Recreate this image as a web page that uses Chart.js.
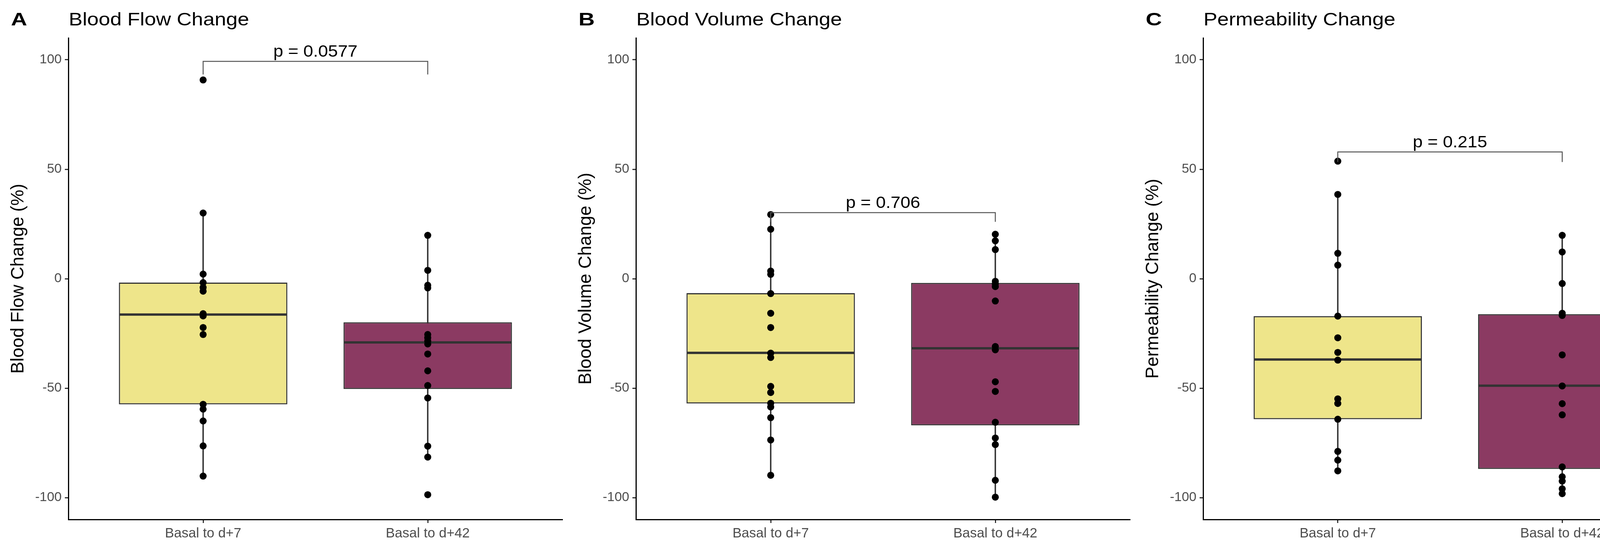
<!DOCTYPE html>
<html><head><meta charset="utf-8">
<script src="https://cdn.jsdelivr.net/npm/chart.js@4"></script>
<style>
html,body{margin:0;padding:0;background:#fff;overflow:hidden;}
#wrap{position:relative;width:4366px;height:1402px;background:#fff;}
.panel{position:absolute;top:0;height:1402px;}
</style></head><body>
<div id="wrap">
<div class="panel" style="left:0;width:1453px"><canvas id="cA"></canvas></div>
<div class="panel" style="left:1453px;width:1452px"><canvas id="cB"></canvas></div>
<div class="panel" style="left:2905px;width:1461px"><canvas id="cC"></canvas></div>
</div>
<script>
// ---------- data ----------
const categories = ['Basal to d+7', 'Basal to d+42'];
const categoryPositions = [1, 2];
const yTickValues = [-100, -50, 0, 50, 100];
const panelLetters = ['A', 'B', 'C'];
const panelTitles = ['Blood Flow Change', 'Blood Volume Change', 'Permeability Change'];
const yAxisTitles = ['Blood Flow Change (%)', 'Blood Volume Change (%)', 'Permeability Change (%)'];
const pValueLabels = ['p = 0.0577', 'p = 0.706', 'p = 0.215'];
const bracketLevels = [99.3, 30.2, 57.9];
const bracketTipEnds = [93.3, 26.0, 53.3];

const flowD7  = [90.8, 30.0, 2.1, -1.8, -4.0, -5.7, -16.0, -17.0, -22.3, -25.5, -57.4, -59.6, -65.0, -76.4, -90.2];
const flowD42 = [19.8, 3.8, -3.0, -4.2, -25.5, -27.0, -28.5, -29.8, -34.4, -42.1, -48.8, -54.5, -76.5, -81.5, -98.7];
const flowQ1 = [-57.4, -50.4];
const flowMedian = [-16.4, -29.1];
const flowQ3 = [-1.8, -19.9];
const flowWhiskerLow = [-90.2, -81.5];
const flowWhiskerHigh = [30.0, 19.8];

const volumeD7  = [29.3, 22.6, 3.5, 2.0, -6.8, -15.8, -22.3, -34.0, -36.0, -49.2, -52.0, -56.9, -58.6, -63.5, -73.7, -89.8];
const volumeD42 = [20.3, 17.3, 13.3, -1.2, -2.4, -3.6, -10.2, -31.0, -32.5, -47.1, -51.5, -65.6, -72.8, -75.8, -92.1, -99.8];
const volumeQ1 = [-57.0, -67.0];
const volumeMedian = [-33.9, -31.8];
const volumeQ3 = [-6.6, -1.9];
const volumeWhiskerLow = [-89.8, -99.8];
const volumeWhiskerHigh = [29.3, 20.3];

const permD7  = [53.7, 38.5, 11.6, 6.2, -17.1, -27.0, -33.7, -37.2, -54.9, -57.0, -64.2, -78.9, -82.9, -87.8];
const permD42 = [19.8, 12.2, -2.2, -15.8, -16.8, -34.8, -49.0, -57.1, -62.2, -86.0, -90.5, -92.5, -96.0, -98.2];
const permQ1 = [-64.2, -86.9];
const permMedian = [-36.9, -48.9];
const permQ3 = [-17.1, -16.2];
const permWhiskerLow = [-87.8, -98.2];
const permWhiskerHigh = [38.5, 19.8];

// ---------- styling ----------
const FONT = '"Liberation Sans", Arial, Helvetica, sans-serif';
const boxColors = ['#EEE58A', '#8B3A62'];
const lineDark = '#333333';

const panels = [
  {id: 'cA', pts: [flowD7, flowD42], q1: flowQ1, med: flowMedian, q3: flowQ3, wl: flowWhiskerLow, wh: flowWhiskerHigh, padRight: 13},
  {id: 'cB', pts: [volumeD7, volumeD42], q1: volumeQ1, med: volumeMedian, q3: volumeQ3, wl: volumeWhiskerLow, wh: volumeWhiskerHigh, padRight: 12},
  {id: 'cC', pts: [permD7, permD42], q1: permQ1, med: permMedian, q3: permQ3, wl: permWhiskerLow, wh: permWhiskerHigh, padRight: 22}
];

function stretchedText(ctx, text, x, y, sx) {
  ctx.save();
  ctx.translate(x, y);
  ctx.scale(sx, 1);
  ctx.fillText(text, 0, 0);
  ctx.restore();
}

const boxPlugin = {
  id: 'boxParts',
  afterDatasetDraw(chart, args) {
    const meta = args.meta;
    if (meta.type !== 'bar' || chart.data.datasets[args.index].role !== 'box') return;
    const ys = chart.scales.y;
    const med = chart.data.datasets[args.index].medians;
    const ctx = chart.ctx;
    ctx.save();
    ctx.strokeStyle = lineDark;
    ctx.lineWidth = 6;
    meta.data.forEach((el, i) => {
      const y = ys.getPixelForValue(med[i]);
      ctx.beginPath();
      ctx.moveTo(el.x - el.width / 2 + 1.5, y);
      ctx.lineTo(el.x + el.width / 2 - 1.5, y);
      ctx.stroke();
    });
    ctx.restore();
  },
  afterDatasetsDraw(chart) {
    const o = chart.options.plugins.boxParts;
    const xs = chart.scales.x, ys = chart.scales.y, ctx = chart.ctx;
    const x1 = xs.getPixelForValue(categoryPositions[0]);
    const x2 = xs.getPixelForValue(categoryPositions[1]);
    const yb = ys.getPixelForValue(o.level);
    const yt = ys.getPixelForValue(o.tip);
    ctx.save();
    ctx.strokeStyle = '#555';
    ctx.lineWidth = 2.5;
    ctx.beginPath();
    ctx.moveTo(x1, yt); ctx.lineTo(x1, yb); ctx.lineTo(x2, yb); ctx.lineTo(x2, yt);
    ctx.stroke();
    ctx.fillStyle = '#000';
    ctx.font = '42px ' + FONT;
    ctx.textAlign = 'center';
    ctx.textBaseline = 'alphabetic';
    stretchedText(ctx, o.label, (x1 + x2) / 2, yb - 12, 1.08);
    ctx.restore();
  },
  afterDraw(chart) {
    const o = chart.options.plugins.boxParts;
    const ctx = chart.ctx;
    ctx.save();
    ctx.fillStyle = '#000';
    ctx.textBaseline = 'middle';
    ctx.textAlign = 'left';
    ctx.font = 'bold 46px ' + FONT;
    stretchedText(ctx, o.letter, 28, 52, 1.25);
    ctx.font = '46px ' + FONT;
    stretchedText(ctx, o.title, chart.chartArea.left + 1, 52, 1.15);
    ctx.restore();
  }
};

panels.forEach((p, k) => {
  const boxData = categoryPositions.map((x, i) => ({x: x, y: [p.q1[i], p.q3[i]]}));
  const whiskerData = categoryPositions.map((x, i) => ({x: x, y: [p.wl[i], p.wh[i]]}));
  const pointData = [];
  p.pts.forEach((arr, i) => arr.forEach(v => pointData.push({x: categoryPositions[i], y: v})));

  new Chart(document.getElementById(p.id), {
    type: 'bar',
    data: {
      datasets: [
        {type: 'scatter', data: pointData, order: 0, pointRadius: 9, pointHoverRadius: 9,
         backgroundColor: '#000', borderColor: '#000', borderWidth: 0},
        {type: 'bar', role: 'box', data: boxData, medians: p.med, order: 1, grouped: false,
         backgroundColor: boxColors, borderColor: lineDark, borderWidth: 3, borderSkipped: false,
         barPercentage: 0.75, categoryPercentage: 1},
        {type: 'bar', data: whiskerData, order: 2, grouped: false, maxBarThickness: 3,
         backgroundColor: lineDark, borderWidth: 0, barPercentage: 1, categoryPercentage: 1}
      ]
    },
    options: {
      responsive: true, maintainAspectRatio: false, animation: false, devicePixelRatio: 1,
      layout: {padding: {top: 97, right: p.padRight, bottom: 0, left: 0}},
      plugins: {
        legend: {display: false}, tooltip: {enabled: false}, title: {display: false},
        boxParts: {letter: panelLetters[k], title: panelTitles[k], label: pValueLabels[k],
                   level: bracketLevels[k], tip: bracketTipEnds[k]}
      },
      scales: {
        x: {
          type: 'linear', min: 0.4, max: 2.6, offset: false,
          afterBuildTicks: s => { s.ticks = categoryPositions.map(v => ({value: v})); },
          afterFit: s => { s.height = 73; },
          ticks: {callback: (v, i) => categories[i], color: '#4D4D4D', font: {family: FONT, size: 35},
                  padding: 6, maxRotation: 0, autoSkip: false},
          grid: {display: true, drawOnChartArea: false, offset: false, tickLength: 9, tickWidth: 3, tickColor: lineDark},
          border: {display: true, color: '#000', width: 3}
        },
        y: {
          type: 'linear', min: -110, max: 110,
          afterBuildTicks: s => { s.ticks = yTickValues.map(v => ({value: v})); },
          afterFit: s => { s.width = 175; },
          ticks: {color: '#4D4D4D', font: {family: FONT, size: 34}, padding: 8},
          grid: {display: true, drawOnChartArea: false, tickLength: 9, tickWidth: 3, tickColor: lineDark},
          border: {display: true, color: '#000', width: 3},
          title: {display: true, text: yAxisTitles[k], color: '#000', font: {family: FONT, size: 46},
                  padding: {top: 20, bottom: 0}}
        }
      }
    },
    plugins: [boxPlugin]
  });
});
</script>
</body></html>
